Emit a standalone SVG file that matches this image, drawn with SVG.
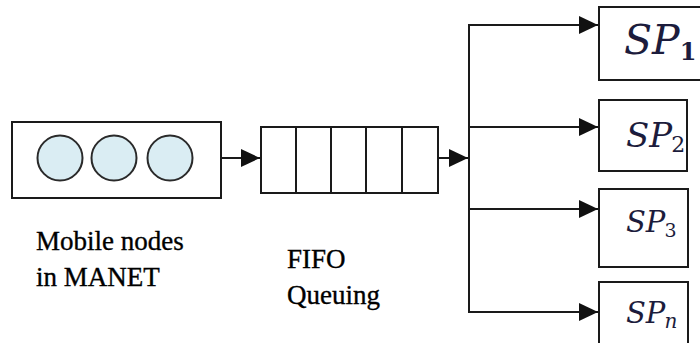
<svg xmlns="http://www.w3.org/2000/svg" width="700" height="343" viewBox="0 0 700 343">
<defs>
<style>
.box{fill:#fff;stroke:#1a1a1a;stroke-width:2}
.node{fill:#daedf3;stroke:#2a2a2a;stroke-width:2}
.ln{fill:none;stroke:#1a1a1a;stroke-width:2}
.lbl{font-family:"Liberation Serif","Times New Roman","DejaVu Serif",serif;font-size:27px;fill:#000;stroke:#000;stroke-width:0.35}
.sp{font-family:"DejaVu Serif","Liberation Serif",serif;font-style:italic;fill:#1c1c3c}
</style>
<marker id="ah" markerWidth="19" markerHeight="18" refX="19" refY="9" orient="auto" markerUnits="userSpaceOnUse">
<path d="M0,0 L19,9 L0,18 z" fill="#111"/>
</marker>
</defs>
<rect width="700" height="343" fill="#fff"/>
<g id="manet">
<rect class="box" x="12" y="122" width="209" height="76"/>
<circle class="node" cx="60" cy="158" r="22.5"/>
<circle class="node" cx="114" cy="158" r="22.5"/>
<circle class="node" cx="170" cy="158" r="22.5"/>
</g>
<g id="fifo">
<rect class="box" x="261" y="127" width="177" height="66"/>
<path class="ln" d="M296,127 V193 M331,127 V193 M366,127 V193 M402,127 V193"/>
</g>
<g id="sp1">
<rect class="box" x="599" y="7" width="120" height="73"/>
<text class="sp" x="624" y="54" font-size="41">SP<tspan font-size="24" font-style="normal" font-weight="bold" dy="6">1</tspan></text>
</g>
<g id="sp2">
<rect class="box" x="599" y="100" width="88" height="71"/>
<text class="sp" x="626" y="147" font-size="34">SP<tspan font-size="22" font-style="normal" dy="5" dx="-1">2</tspan></text>
</g>
<g id="sp3">
<rect class="box" x="599" y="189" width="89" height="78"/>
<text class="sp" x="626" y="232" font-size="29">SP<tspan font-size="19" font-style="normal" dy="5" dx="-1">3</tspan></text>
</g>
<g id="spn">
<rect class="box" x="599" y="282" width="89" height="80"/>
<text class="sp" x="626" y="323" font-size="29">SP<tspan font-size="20" dy="5" dx="-1">n</tspan></text>
</g>
<g id="labels">
<text class="lbl" x="36" y="250">Mobile nodes</text>
<text class="lbl" x="36" y="286">in MANET</text>
<text class="lbl" x="287" y="268">FIFO</text>
<text class="lbl" x="287" y="304">Queuing</text>
</g>
<g id="connectors">
<path class="ln" d="M221,158 H260" marker-end="url(#ah)"/>
<path class="ln" d="M438,158 H468" marker-end="url(#ah)"/>
<path class="ln" d="M469,312 V25"/>
<path class="ln" d="M468,25 H598" marker-end="url(#ah)"/>
<path class="ln" d="M469,127 H598" marker-end="url(#ah)"/>
<path class="ln" d="M469,209 H598" marker-end="url(#ah)"/>
<path class="ln" d="M468,312 H598" marker-end="url(#ah)"/>
</g>
</svg>
